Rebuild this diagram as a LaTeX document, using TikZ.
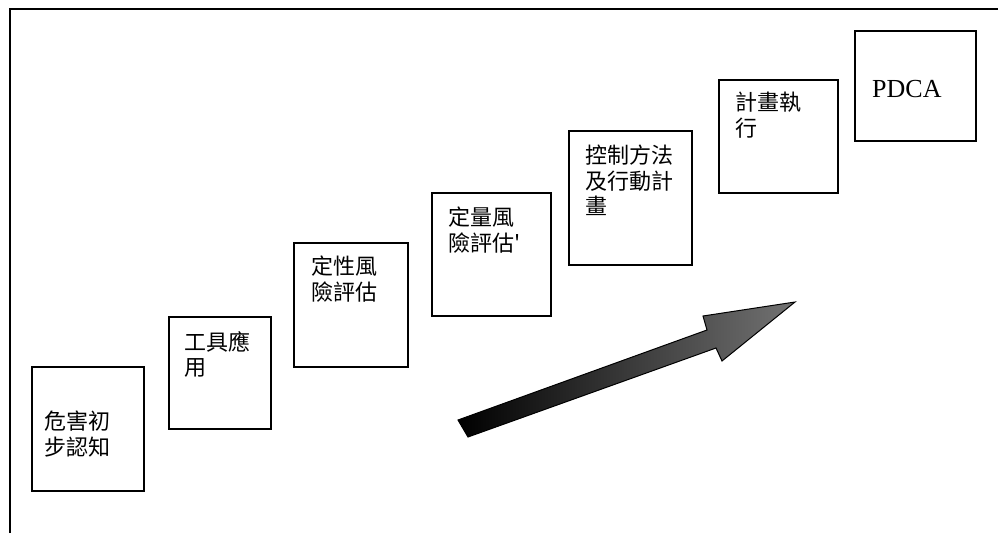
\documentclass[tikz,border=0pt]{standalone}
\usepackage{fontspec}
\setmainfont{Liberation Serif}
\newfontfamily\cjk{Noto Sans CJK TC}
\begin{document}
\begin{tikzpicture}[x=1pt,y=-1pt,
  stepbox/.style={draw=black, line width=1.8pt, inner sep=0pt, anchor=north west},
  lbl/.style={font=\cjk\fontsize{22}{25.5}\selectfont, align=left, inner sep=0pt, anchor=north west},
  frameline/.style={draw=black, line width=2.2pt}]
\useasboundingbox (0,0) rectangle (998,533);
\fill[white] (0,0) rectangle (998,533);
% frame
\draw[frameline] (10,533) -- (10,9) -- (998,9);
% boxes
\node[stepbox, minimum width=112pt, minimum height=124pt] (b1) at (31,366) {};
\node[stepbox, minimum width=102pt, minimum height=112pt] (b2) at (168,316) {};
\node[stepbox, minimum width=114pt, minimum height=124pt] (b3) at (293,242) {};
\node[stepbox, minimum width=119pt, minimum height=123pt] (b4) at (431,192) {};
\node[stepbox, minimum width=123pt, minimum height=134pt] (b5) at (568,130) {};
\node[stepbox, minimum width=119pt, minimum height=113pt] (b6) at (718,79) {};
\node[stepbox, minimum width=121pt, minimum height=110pt] (b7) at (854,30) {};
% labels
\node[lbl] (t1) at (44,411) {危害初\\步認知};
\node[lbl] (t2) at (184,331) {工具應\\用};
\node[lbl] (t3) at (311,256) {定性風\\險評估};
\node[lbl] (t4) at (448,207) {定量風\\險評估'};
\node[lbl] (t5) at (585,145) {控制方法\\及行動計\\畫};
\node[lbl] (t6) at (735,92) {計畫執\\行};
\node[font=\fontsize{26}{30}\selectfont, inner sep=0pt, anchor=base west] (t7) at (872,97) {PDCA};
% big arrow
\shade[draw=black, line width=1pt, left color=black, right color=black!55]
  (458,420) -- (707,330) -- (703,316) -- (795,302) -- (722,361) -- (716,348) -- (468,437) -- cycle;
\end{tikzpicture}
\end{document}
